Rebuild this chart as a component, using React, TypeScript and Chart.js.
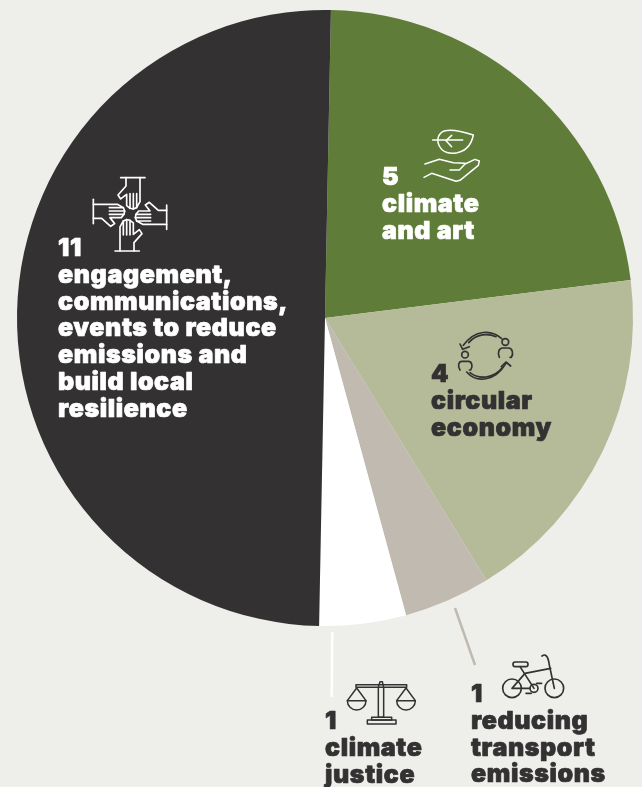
import React, { useEffect, useRef } from "react";
import { Chart, registerables } from "chart.js";

Chart.register(...registerables);

const categories = ["climate and art", "circular economy", "reducing transport emissions", "climate justice", "engagement, communications, events to reduce emissions and build local resilience"];
const values = [5, 4, 1, 1, 11];
const colors = ["#5f7d38", "#b5bb98", "#c0bab0", "#ffffff", "#333132"];

const W = 642;
const H = 787;
const BG = "#eeeeea";
const DARK = "#333132";
const FONT = '900 25px Inter';
const PITCH = 26.8;

const labelBlocks = [
  { x: 58, y: 256, color: "#ffffff", lines: ["11", "engagement,", "communications,", "events to reduce", "emissions and", "build local", "resilience"] },
  { x: 382, y: 185, color: "#ffffff", lines: ["5", "climate", "and art"] },
  { x: 431, y: 382, color: DARK, lines: ["4", "circular", "economy"] },
  { x: 325, y: 729, color: DARK, lines: ["1", "climate", "justice"] },
  { x: 471, y: 702, color: DARK, lines: ["1", "reducing", "transport", "emissions"] },
];

function stroke(ctx: CanvasRenderingContext2D, ox: number, oy: number, color: string, lw: number, paths: string[]) {
  ctx.save();
  ctx.translate(ox, oy);
  ctx.scale(1 / 3, 1 / 3);
  ctx.strokeStyle = color;
  ctx.lineWidth = lw;
  ctx.lineCap = "round";
  ctx.lineJoin = "round";
  paths.forEach((p) => ctx.stroke(new Path2D(p)));
  ctx.restore();
}

const leaf = [
  "M310 45 C280 35 250 27 225 32 C205 38 198 60 208 78 C218 98 240 102 262 98 C290 92 305 70 310 45 Z",
  "M188 60 L278 60",
  "M245 46 L228 62 L245 80",
  "M165 132 L208 118 L250 128 L285 130",
  "M162 172 L185 160 L258 184 L270 181 L325 136 L328 123 L315 118 L285 132 L268 150 L240 150",
];

const hand = [
  "M-28 -110 L45 -110",
  "M30 -110 L30 -38 L20 -20 L20 -62",
  "M20 -20 L10 -16 L10 -62",
  "M10 -16 L0 -18 L0 -62",
  "M0 -18 L-10 -26 L-10 -60 L-28 -46 L-36 -58 L-12 -85 L-12 -110",
];

const cycle = [
  "M266 66 A10 10 0 1 1 246 66 A10 10 0 1 1 266 66 Z",
  "M238 112 C232 100 236 84 248 84 L266 84 C276 84 282 100 274 112 L270 112",
  "M145 104 A10 10 0 1 1 125 104 A10 10 0 1 1 145 104 Z",
  "M120 150 C112 138 116 124 126 124 L145 124 C155 124 160 138 152 150 L148 150",
  "M245 56 C215 28 165 28 130 76",
  "M120 72 L128 88 L148 80",
  "M228 50 C205 40 170 40 146 68",
  "M140 156 C170 190 225 185 258 130",
  "M244 140 L258 126 L272 138",
  "M150 158 C175 178 220 178 248 142",
];

const scales = [
  "M138 254 L290 254 L290 262 L138 262 Z",
  "M205 262 L210 245 L217 245 L221 262 L221 352 L205 352 Z",
  "M185 352 L245 352 L245 360 L185 360 Z",
  "M172 360 L258 360 L258 372 L172 372 Z",
  "M140 264 L112 302 L168 302 Z",
  "M112 302 A28 28 0 0 0 168 302",
  "M288 264 L260 302 L316 302 Z",
  "M260 302 A28 28 0 0 0 316 302",
];

const bike = [
  "M634 265 A28 28 0 1 1 578 265 A28 28 0 1 1 634 265 Z",
  "M761 265 A28 28 0 1 1 705 265 A28 28 0 1 1 761 265 Z",
  "M684 265 A12 12 0 1 1 660 265 A12 12 0 1 1 684 265 Z",
  "M696 168 C710 158 715 175 718 195 L733 265",
  "M722 205 L645 220 L606 265 L660 265",
  "M630 200 L672 265",
  "M648 280 L664 280 M680 250 L695 250",
  "M615 186 L648 186 C656 186 656 200 648 200 L615 200 C607 200 607 186 615 186 Z",
];

const annotationPlugin = {
  id: "annotations",
  afterDraw(chart: Chart) {
    const ctx = chart.ctx;
    ctx.save();
    ctx.lineCap = "butt";
    ctx.lineWidth = 2.5;
    ctx.strokeStyle = "#ffffff";
    ctx.beginPath();
    ctx.moveTo(332.3, 632);
    ctx.lineTo(331.7, 697);
    ctx.stroke();
    ctx.strokeStyle = colors[2];
    ctx.beginPath();
    ctx.moveTo(455, 608);
    ctx.lineTo(475, 665);
    ctx.stroke();

    stroke(ctx, 370, 120, "#ffffff", 4.5, leaf);
    stroke(ctx, 420, 320, DARK, 5, cycle);
    stroke(ctx, 310, 600, DARK, 4.5, scales);
    stroke(ctx, 310, 600, DARK, 5, bike);
    [0, 90, 180, 270].forEach((deg) => {
      ctx.save();
      ctx.translate(130, 214.3);
      ctx.rotate((deg * Math.PI) / 180);
      stroke(ctx, 0, 0, "#ffffff", 5, hand);
      ctx.restore();
    });

    ctx.font = FONT;
    (ctx as any).letterSpacing = "0.6px";
    ctx.textBaseline = "alphabetic";
    ctx.textAlign = "left";
    ctx.lineJoin = "round";
    ctx.lineWidth = 0.7;
    labelBlocks.forEach((b) => {
      ctx.fillStyle = b.color;
      ctx.strokeStyle = b.color;
      b.lines.forEach((line, i) => {
        ctx.fillText(line, b.x, b.y + i * PITCH);
        ctx.strokeText(line, b.x, b.y + i * PITCH);
      });
    });
    ctx.restore();
  },
};

export default function App() {
  const ref = useRef<HTMLCanvasElement>(null);
  useEffect(() => {
    if (!ref.current) return;
    const chart = new Chart(ref.current, {
      type: "pie",
      data: {
        labels: categories,
        datasets: [{ data: values, backgroundColor: colors, borderWidth: 0, hoverOffset: 0 }],
      },
      options: {
        animation: false,
        responsive: false,
        devicePixelRatio: 1,
        rotation: 1.1,
        layout: { padding: { left: 17, right: 9, top: 10, bottom: 161 } },
        plugins: { legend: { display: false }, tooltip: { enabled: false } },
      },
      plugins: [annotationPlugin],
    });
    return () => chart.destroy();
  }, []);
  return (
    <div style={{ position: "absolute", left: 0, top: 0, width: W, height: H, background: BG, overflow: "hidden" }}>
      <canvas ref={ref} width={W} height={H} style={{ display: "block" }} />
    </div>
  );
}
